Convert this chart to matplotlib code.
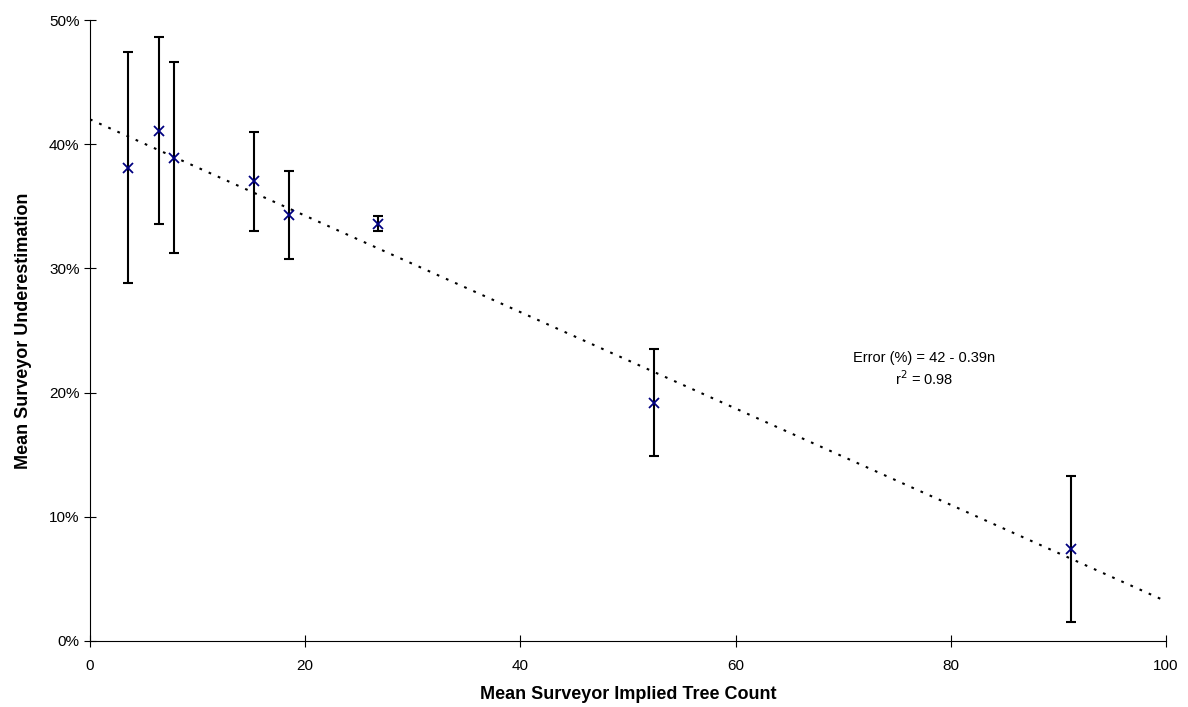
#!/usr/bin/env python3
# surveyor_underestimation.py

import matplotlib
matplotlib.use("Agg")
import matplotlib.pyplot as plt
import numpy as np
from matplotlib.ticker import PercentFormatter

plt.rcParams["font.family"] = ["Liberation Sans", "DejaVu Sans"]

# mean surveyor implied tree count
tree_count = [3.5, 6.4, 7.8, 15.2, 18.5, 26.8, 52.4, 91.2]
# mean underestimation (%)
underest = [38.1, 41.1, 38.9, 37.0, 34.3, 33.6, 19.2, 7.4]
# half-width of error bars (%)
err = [9.3, 7.5, 7.7, 4.0, 3.55, 0.6, 4.3, 5.9]

# fitted trend line
trend_intercept = 42.0
trend_slope = -0.388


def plot(ax):
    x = np.array([0, 100])
    ax.plot(x, trend_intercept + trend_slope * x, color="black",
            linestyle=(0, (1.3, 3.5)), linewidth=1.5, zorder=1)

    ax.errorbar(tree_count, underest, yerr=err, fmt="none", ecolor="black",
                elinewidth=1.5, capsize=3.5, capthick=1.5, zorder=2)
    ax.plot(tree_count, underest, linestyle="none", marker="x",
            color="#000080", markersize=7, markeredgewidth=1.3, zorder=3)

    ax.text(0.775, 0.437, "Error (%) = 42 - 0.39n\nr$^2$ = 0.98",
            transform=ax.transAxes, ha="center", va="center", fontsize=10.5,
            linespacing=1.25)

    ax.set_xlim(0, 100)
    ax.set_ylim(0, 50)
    ax.set_xticks(np.arange(0, 101, 20))
    ax.set_yticks(np.arange(0, 51, 10))
    ax.yaxis.set_major_formatter(PercentFormatter(decimals=0))
    ax.tick_params(direction="inout", length=8, width=0.8, labelsize=11)
    ax.tick_params(axis="x", pad=9)
    ax.spines["top"].set_visible(False)
    ax.spines["right"].set_visible(False)
    ax.set_xlabel("Mean Surveyor Implied Tree Count", fontsize=13,
                  fontweight="bold", labelpad=9)
    ax.set_ylabel("Mean Surveyor Underestimation", fontsize=13,
                  fontweight="bold", labelpad=12)


def main():
    fig = plt.figure(figsize=(11.88, 7.07), dpi=100)
    ax = fig.add_axes([90 / 1188, 66 / 707, 1076 / 1188, 621 / 707])
    plot(ax)
    fig.savefig("out.png", dpi=100)


if __name__ == "__main__":
    main()
